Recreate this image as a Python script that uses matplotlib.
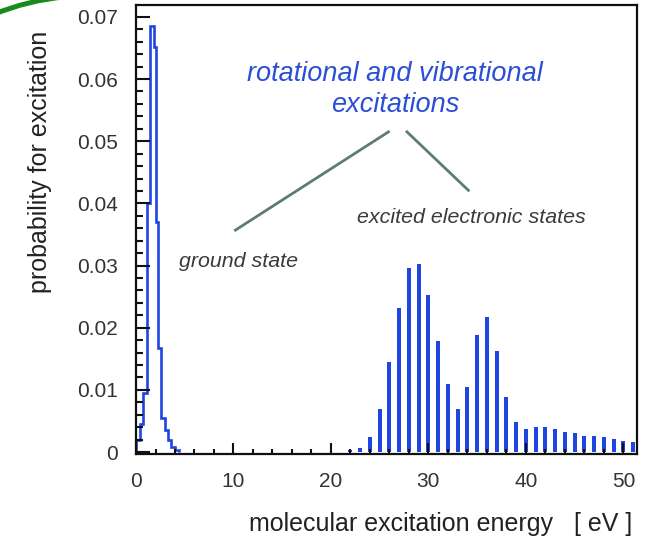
import matplotlib
matplotlib.use("Agg")
import matplotlib.pyplot as plt
from matplotlib.patches import Arc
from matplotlib.ticker import MultipleLocator, FuncFormatter

plt.rcParams['font.family'] = ['Liberation Sans', 'DejaVu Sans']

# ground-state (rotational / vibrational) excitation histogram
ground_edges = [0.0, 0.4, 0.75, 1.1, 1.45, 1.85, 2.05, 2.25, 2.6, 2.95, 3.3, 3.6, 4.0, 4.4]
ground_prob = [0.002, 0.0045, 0.0095, 0.040, 0.0686, 0.0652, 0.037, 0.0167,
               0.0055, 0.0035, 0.002, 0.0009, 0.0003]

# excited electronic states, one line per eV
excited_energy = list(range(22, 52))
excited_prob = [0.0003, 0.0006, 0.0025, 0.0069, 0.0145, 0.0232, 0.0296, 0.0302,
                0.0253, 0.0179, 0.0109, 0.0070, 0.0105, 0.0189, 0.0218, 0.0163,
                0.0088, 0.0048, 0.0037, 0.0040, 0.0041, 0.0037, 0.0032, 0.0030,
                0.0026, 0.0026, 0.0024, 0.0021, 0.0018, 0.0017]

x_ticks = [0, 10, 20, 30, 40, 50]
y_ticks = [0, 0.01, 0.02, 0.03, 0.04, 0.05, 0.06, 0.07]

blue = '#1f45e0'
text_blue = '#2a4fd6'
line_col = '#5f7b76'

fig = plt.figure(figsize=(6.52, 5.40), dpi=100)
ax = fig.add_axes([0.2086, 0.1593, 0.977 - 0.2086, 0.9907 - 0.1593])

ax.stairs(ground_prob, ground_edges, color=blue, linewidth=1.9)
ax.bar(excited_energy, excited_prob, width=0.4, color=blue, linewidth=0)

ax.set_xlim(0, 51.4)
ax.set_ylim(-0.0003, 0.0719)
ax.set_xticks(x_ticks)
ax.set_yticks(y_ticks)
ax.xaxis.set_minor_locator(MultipleLocator(2))
ax.yaxis.set_minor_locator(MultipleLocator(0.002))
ax.yaxis.set_major_formatter(FuncFormatter(lambda v, p: f"{v:g}"))

ax.tick_params(axis='both', which='both', direction='in', top=False, right=False,
               width=1.5, color='#111111', labelsize=15, labelcolor='#333333', pad=13)
ax.tick_params(axis='y', which='major', length=10)
ax.tick_params(axis='y', which='minor', length=5)
ax.tick_params(axis='x', which='major', length=8)
ax.tick_params(axis='x', which='minor', length=3.5)
for s in ax.spines.values():
    s.set_linewidth(1.6)
    s.set_color('#111111')

ax.set_ylabel('probability for excitation', fontsize=18, color='#222222',
              va='center')
ax.yaxis.set_label_coords(-0.192, 0.65)
ax.set_xlabel('molecular excitation energy   [ eV ]', fontsize=18, color='#222222',
              va='center', ha='right')
ax.xaxis.set_label_coords(0.99, -0.155)

ax.text(26.6, 0.0583, 'rotational and vibrational\nexcitations', color=text_blue,
        fontsize=19.5, style='italic', ha='center', va='center', linespacing=1.22)
ax.text(34.4, 0.0378, 'excited electronic states', color='#3a3a3a', fontsize=15.4,
        style='italic', ha='center', va='center')
ax.text(10.5, 0.0306, 'ground state', color='#3a3a3a', fontsize=15.4,
        style='italic', ha='center', va='center')

ax.plot([25.9, 10.2], [0.0515, 0.0357], color=line_col, linewidth=2)
ax.plot([27.8, 34.1], [0.0515, 0.0421], color=line_col, linewidth=2)

# decorative green arc in the top-left corner (figure inches)
fig.add_artist(Arc((0.865, 3.01), 4.86, 4.86, theta1=95, theta2=130,
                   transform=fig.dpi_scale_trans, color='#1a8a1a', linewidth=3.6))

fig.savefig('out.png', dpi=100)
